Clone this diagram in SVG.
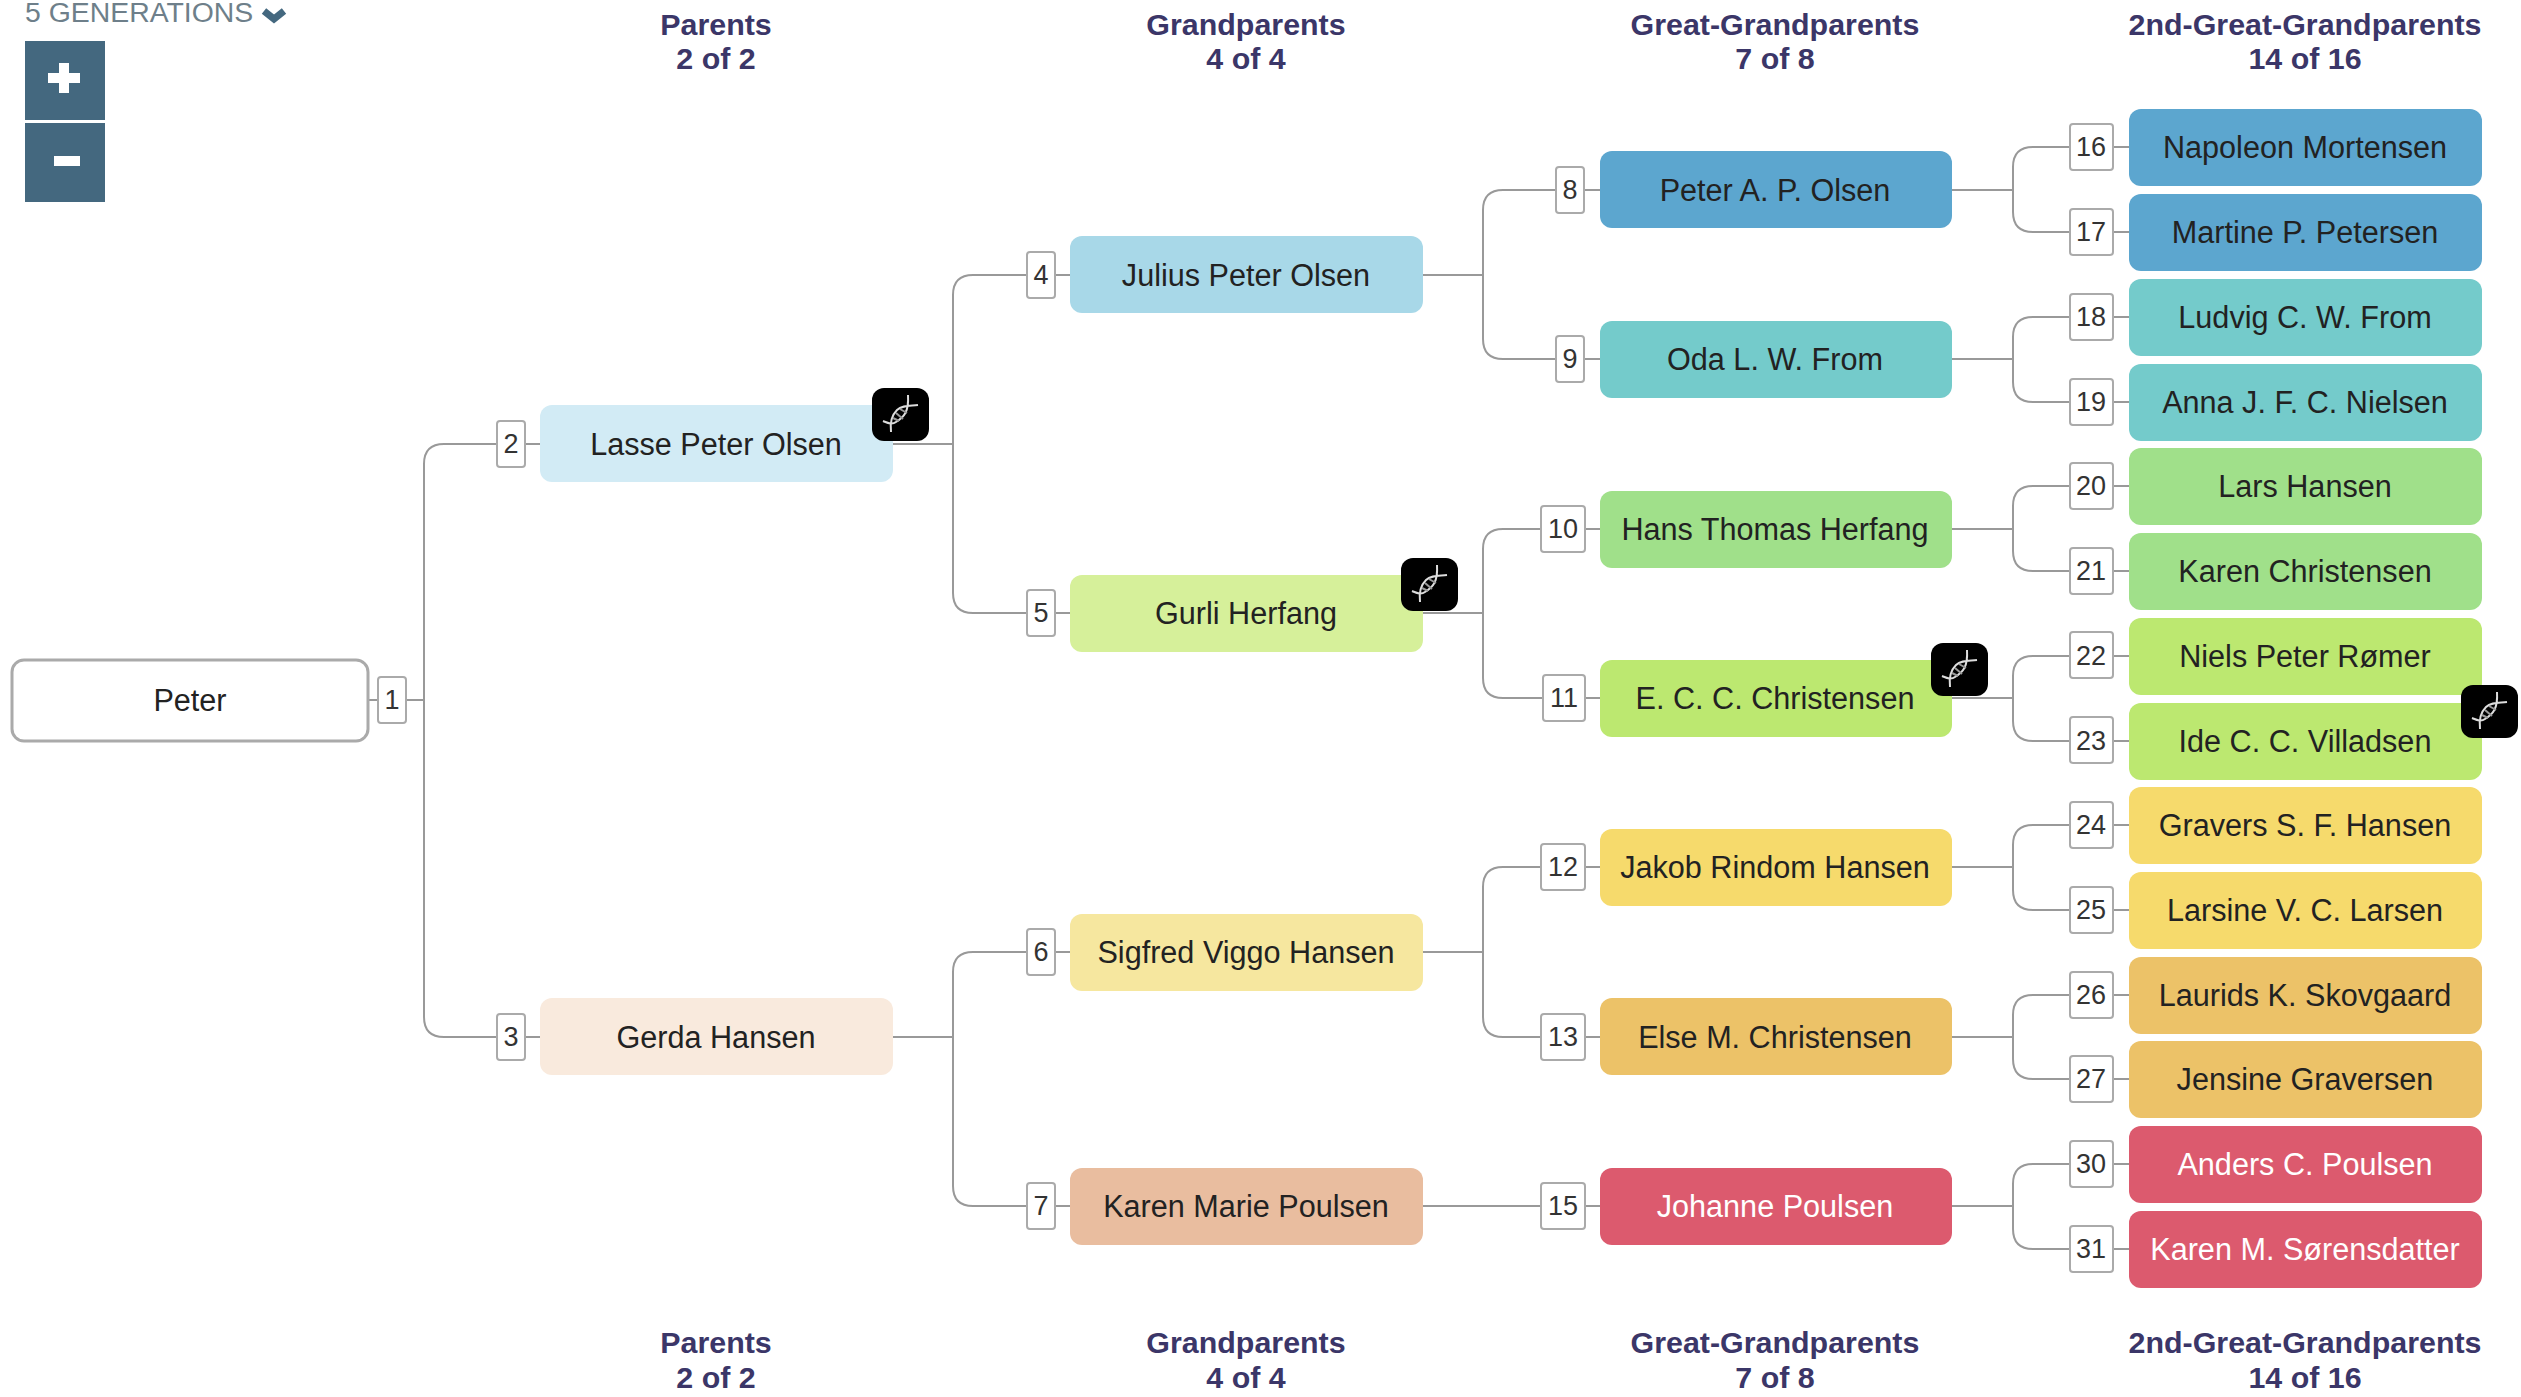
<svg xmlns="http://www.w3.org/2000/svg" width="2521" height="1397" viewBox="0 0 2521 1397">
<style>
text{font-family:"Liberation Sans",Arial,sans-serif}
.n{font-size:30.6px;fill:#222;text-anchor:middle}
.w{fill:#fff}
.b{font-size:27px;fill:#333;text-anchor:middle}
.h{font-size:30.4px;font-weight:bold;fill:#3b3668;text-anchor:middle}
.bx{fill:#fff;stroke:#aaa;stroke-width:2}
.c{fill:none;stroke:#999;stroke-width:2}
.c1{fill:#5ca6cf}.c2{fill:#74cbcb}.c3{fill:#a0e08a}.c4{fill:#bce870}.c5{fill:#f6da6c}.c6{fill:#ecc268}.c7{fill:#dc5a6e}
</style>
<defs>
<g id="dna">
<rect x="0" y="0" width="57" height="53" rx="12" fill="#000"/>
<path d="M11 33C16 35 20 37 24 34C32 29 37 24 36 7M19 44C18 36 19 28 25 22C30 17 38 18 46 17" fill="none" stroke="#ddd" stroke-width="2"/>
<path d="M24 25L31 31M28 21L35 25M21 30L27 33" stroke="#999" stroke-width="2" fill="none"/>
</g>
</defs>
<g id="controls">
<text x="25" y="22" font-size="28.4" fill="#6e7f8a">5 GENERATIONS</text>
<path d="M264 11L274 19L284 11" fill="none" stroke="#44687f" stroke-width="7"/>
<rect x="25" y="41" width="80" height="79" fill="#44687f"/>
<rect x="25" y="123" width="80" height="79" fill="#44687f"/>
<path d="M48 78H80M64 63V93" stroke="#fff" stroke-width="10"/>
<path d="M54 161H80" stroke="#fff" stroke-width="10"/>
</g>
<g id="headers">
<text class="h" x="716" y="35">Parents</text><text class="h" x="716" y="69">2 of 2</text>
<text class="h" x="1246" y="35">Grandparents</text><text class="h" x="1246" y="69">4 of 4</text>
<text class="h" x="1775" y="35">Great-Grandparents</text><text class="h" x="1775" y="69">7 of 8</text>
<text class="h" x="2305" y="35">2nd-Great-Grandparents</text><text class="h" x="2305" y="69">14 of 16</text>
<text class="h" x="716" y="1353">Parents</text><text class="h" x="716" y="1388">2 of 2</text>
<text class="h" x="1246" y="1353">Grandparents</text><text class="h" x="1246" y="1388">4 of 4</text>
<text class="h" x="1775" y="1353">Great-Grandparents</text><text class="h" x="1775" y="1388">7 of 8</text>
<text class="h" x="2305" y="1353">2nd-Great-Grandparents</text><text class="h" x="2305" y="1388">14 of 16</text>
</g>
<g id="connectors" class="c">
<path d="M368 700H424M424 464V1017Q424 1037 444 1037H540M424 464Q424 444 444 444H540"/>
<path d="M893 444H953M953 295V593Q953 613 973 613H1070M953 295Q953 275 973 275H1070"/>
<path d="M893 1037H953M953 972V1186Q953 1206 973 1206H1070M953 972Q953 952 973 952H1070"/>
<path d="M1423 275H1483M1483 210V339Q1483 359 1503 359H1600M1483 210Q1483 190 1503 190H1600"/>
<path d="M1423 613H1483M1483 549V678Q1483 698 1503 698H1600M1483 549Q1483 529 1503 529H1600"/>
<path d="M1423 952H1483M1483 887V1017Q1483 1037 1503 1037H1600M1483 887Q1483 867 1503 867H1600"/>
<path d="M1423 1206H1600"/>
<path d="M1952 190H2013M2013 167V212Q2013 232 2033 232H2129M2013 167Q2013 147 2033 147H2129"/>
<path d="M1952 359H2013M2013 337V382Q2013 402 2033 402H2129M2013 337Q2013 317 2033 317H2129"/>
<path d="M1952 529H2013M2013 506V551Q2013 571 2033 571H2129M2013 506Q2013 486 2033 486H2129"/>
<path d="M1952 698H2013M2013 676V721Q2013 741 2033 741H2129M2013 676Q2013 656 2033 656H2129"/>
<path d="M1952 867H2013M2013 845V890Q2013 910 2033 910H2129M2013 845Q2013 825 2033 825H2129"/>
<path d="M1952 1037H2013M2013 1015V1059Q2013 1079 2033 1079H2129M2013 1015Q2013 995 2033 995H2129"/>
<path d="M1952 1206H2013M2013 1184V1229Q2013 1249 2033 1249H2129M2013 1184Q2013 1164 2033 1164H2129"/>
</g>
<g id="node-peter"><rect x="12" y="660" width="356" height="81" rx="12" fill="#fff" stroke="#aaa" stroke-width="3"/><text class="n" x="190" y="711">Peter</text><rect class="bx" x="378" y="677" width="28" height="46" rx="3"/><text class="b" x="392" y="709">1</text></g>
<g id="node-2"><rect x="540" y="405" width="353" height="77" rx="12" fill="#d2ebf5"/><text class="n" x="716" y="455">Lasse Peter Olsen</text><rect class="bx" x="497" y="421" width="28" height="46" rx="3"/><text class="b" x="511" y="453">2</text></g>
<g id="node-3"><rect x="540" y="998" width="353" height="77" rx="12" fill="#f9eadd"/><text class="n" x="716" y="1048">Gerda Hansen</text><rect class="bx" x="497" y="1014" width="28" height="46" rx="3"/><text class="b" x="511" y="1046">3</text></g>
<g id="node-4"><rect x="1070" y="236" width="353" height="77" rx="12" fill="#a8d8e8"/><text class="n" x="1246" y="286">Julius Peter Olsen</text><rect class="bx" x="1027" y="252" width="28" height="46" rx="3"/><text class="b" x="1041" y="284">4</text></g>
<g id="node-5"><rect x="1070" y="575" width="353" height="77" rx="12" fill="#d6f09a"/><text class="n" x="1246" y="624">Gurli Herfang</text><rect class="bx" x="1027" y="590" width="28" height="46" rx="3"/><text class="b" x="1041" y="622">5</text></g>
<g id="node-6"><rect x="1070" y="914" width="353" height="77" rx="12" fill="#f6e79f"/><text class="n" x="1246" y="963">Sigfred Viggo Hansen</text><rect class="bx" x="1027" y="929" width="28" height="46" rx="3"/><text class="b" x="1041" y="961">6</text></g>
<g id="node-7"><rect x="1070" y="1168" width="353" height="77" rx="12" fill="#e9bd9f"/><text class="n" x="1246" y="1217">Karen Marie Poulsen</text><rect class="bx" x="1027" y="1183" width="28" height="46" rx="3"/><text class="b" x="1041" y="1215">7</text></g>
<g id="node-8"><rect class="c1" x="1600" y="151" width="352" height="77" rx="12"/><text class="n" x="1775" y="201">Peter A. P. Olsen</text><rect class="bx" x="1556" y="167" width="28" height="46" rx="3"/><text class="b" x="1570" y="199">8</text></g>
<g id="node-9"><rect class="c2" x="1600" y="321" width="352" height="77" rx="12"/><text class="n" x="1775" y="370">Oda L. W. From</text><rect class="bx" x="1556" y="336" width="28" height="46" rx="3"/><text class="b" x="1570" y="368">9</text></g>
<g id="node-10"><rect class="c3" x="1600" y="491" width="352" height="77" rx="12"/><text class="n" x="1775" y="540">Hans Thomas Herfang</text><rect class="bx" x="1541" y="506" width="44" height="46" rx="3"/><text class="b" x="1563" y="538">10</text></g>
<g id="node-11"><rect class="c4" x="1600" y="660" width="352" height="77" rx="12"/><text class="n" x="1775" y="709">E. C. C. Christensen</text><rect class="bx" x="1543" y="675" width="42" height="46" rx="3"/><text class="b" x="1564" y="707">11</text></g>
<g id="node-12"><rect class="c5" x="1600" y="829" width="352" height="77" rx="12"/><text class="n" x="1775" y="878">Jakob Rindom Hansen</text><rect class="bx" x="1541" y="844" width="44" height="46" rx="3"/><text class="b" x="1563" y="876">12</text></g>
<g id="node-13"><rect class="c6" x="1600" y="998" width="352" height="77" rx="12"/><text class="n" x="1775" y="1048">Else M. Christensen</text><rect class="bx" x="1541" y="1014" width="44" height="46" rx="3"/><text class="b" x="1563" y="1046">13</text></g>
<g id="node-15"><rect class="c7" x="1600" y="1168" width="352" height="77" rx="12"/><text class="n w" x="1775" y="1217">Johanne Poulsen</text><rect class="bx" x="1541" y="1183" width="44" height="46" rx="3"/><text class="b" x="1563" y="1215">15</text></g>
<g id="node-16"><rect class="c1" x="2129" y="109" width="353" height="77" rx="12"/><text class="n" x="2305" y="158">Napoleon Mortensen</text><rect class="bx" x="2070" y="124" width="43" height="46" rx="3"/><text class="b" x="2091" y="156">16</text></g>
<g id="node-17"><rect class="c1" x="2129" y="194" width="353" height="77" rx="12"/><text class="n" x="2305" y="243">Martine P. Petersen</text><rect class="bx" x="2070" y="209" width="43" height="46" rx="3"/><text class="b" x="2091" y="241">17</text></g>
<g id="node-18"><rect class="c2" x="2129" y="279" width="353" height="77" rx="12"/><text class="n" x="2305" y="328">Ludvig C. W. From</text><rect class="bx" x="2070" y="294" width="43" height="46" rx="3"/><text class="b" x="2091" y="326">18</text></g>
<g id="node-19"><rect class="c2" x="2129" y="364" width="353" height="77" rx="12"/><text class="n" x="2305" y="413">Anna J. F. C. Nielsen</text><rect class="bx" x="2070" y="379" width="43" height="46" rx="3"/><text class="b" x="2091" y="411">19</text></g>
<g id="node-20"><rect class="c3" x="2129" y="448" width="353" height="77" rx="12"/><text class="n" x="2305" y="497">Lars Hansen</text><rect class="bx" x="2070" y="463" width="43" height="46" rx="3"/><text class="b" x="2091" y="495">20</text></g>
<g id="node-21"><rect class="c3" x="2129" y="533" width="353" height="77" rx="12"/><text class="n" x="2305" y="582">Karen Christensen</text><rect class="bx" x="2070" y="548" width="43" height="46" rx="3"/><text class="b" x="2091" y="580">21</text></g>
<g id="node-22"><rect class="c4" x="2129" y="618" width="353" height="77" rx="12"/><text class="n" x="2305" y="667">Niels Peter Rømer</text><rect class="bx" x="2070" y="632" width="43" height="46" rx="3"/><text class="b" x="2091" y="665">22</text></g>
<g id="node-23"><rect class="c4" x="2129" y="703" width="353" height="77" rx="12"/><text class="n" x="2305" y="752">Ide C. C. Villadsen</text><rect class="bx" x="2070" y="717" width="43" height="46" rx="3"/><text class="b" x="2091" y="750">23</text></g>
<g id="node-24"><rect class="c5" x="2129" y="787" width="353" height="77" rx="12"/><text class="n" x="2305" y="836">Gravers S. F. Hansen</text><rect class="bx" x="2070" y="802" width="43" height="46" rx="3"/><text class="b" x="2091" y="834">24</text></g>
<g id="node-25"><rect class="c5" x="2129" y="872" width="353" height="77" rx="12"/><text class="n" x="2305" y="921">Larsine V. C. Larsen</text><rect class="bx" x="2070" y="887" width="43" height="46" rx="3"/><text class="b" x="2091" y="919">25</text></g>
<g id="node-26"><rect class="c6" x="2129" y="957" width="353" height="77" rx="12"/><text class="n" x="2305" y="1006">Laurids K. Skovgaard</text><rect class="bx" x="2070" y="972" width="43" height="46" rx="3"/><text class="b" x="2091" y="1004">26</text></g>
<g id="node-27"><rect class="c6" x="2129" y="1041" width="353" height="77" rx="12"/><text class="n" x="2305" y="1090">Jensine Graversen</text><rect class="bx" x="2070" y="1056" width="43" height="46" rx="3"/><text class="b" x="2091" y="1088">27</text></g>
<g id="node-30"><rect class="c7" x="2129" y="1126" width="353" height="77" rx="12"/><text class="n w" x="2305" y="1175">Anders C. Poulsen</text><rect class="bx" x="2070" y="1141" width="43" height="46" rx="3"/><text class="b" x="2091" y="1173">30</text></g>
<g id="node-31"><rect class="c7" x="2129" y="1211" width="353" height="77" rx="12"/><text class="n w" x="2305" y="1260">Karen M. Sørensdatter</text><rect class="bx" x="2070" y="1226" width="43" height="46" rx="3"/><text class="b" x="2091" y="1258">31</text></g>
<g id="dna-icons">
<use href="#dna" x="872" y="388"/>
<use href="#dna" x="1401" y="558"/>
<use href="#dna" x="1931" y="643"/>
<use href="#dna" x="2461" y="685"/>
</g>
</svg>
